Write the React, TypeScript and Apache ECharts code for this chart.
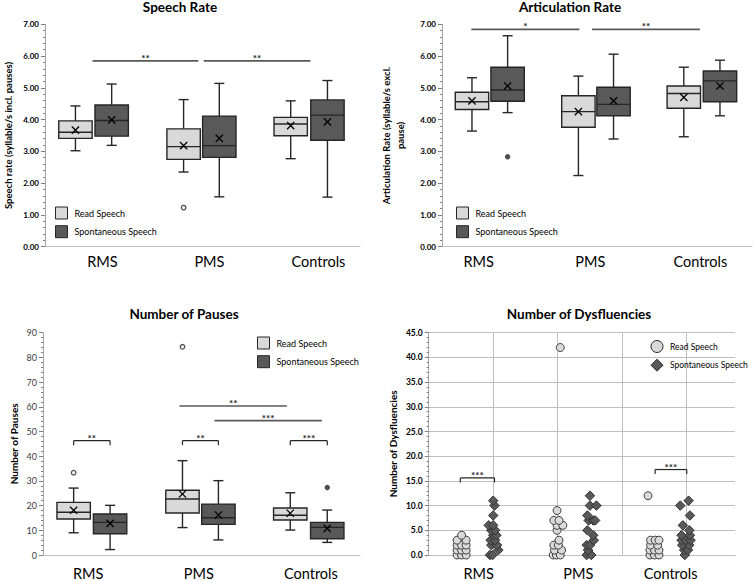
import React, { useEffect, useRef } from "react";
import * as echarts from "echarts";

// ---------- DATA ----------
const categories = ["RMS", "PMS", "Controls"];
const seriesNames = ["Read Speech", "Spontaneous Speech"];

// box stats per group: [min, q1, median, q3, max]
const speechRateReadBox = [
  [3.02, 3.41, 3.6, 3.96, 4.43],
  [2.35, 2.75, 3.15, 3.71, 4.63],
  [2.77, 3.49, 3.86, 4.07, 4.59],
];
const speechRateReadMean = [3.67, 3.18, 3.81];
const speechRateSpontBox = [
  [3.19, 3.48, 3.97, 4.46, 5.12],
  [1.57, 2.81, 3.18, 4.11, 5.14],
  [1.56, 3.35, 4.14, 4.62, 5.23],
];
const speechRateSpontMean = [3.99, 3.41, 3.93];
const speechRateOutliers = [[1, 0, 1.23]]; // [group, seriesIdx, value]

const artRateReadBox = [
  [3.64, 4.32, 4.56, 4.86, 5.32],
  [2.24, 3.76, 4.25, 4.75, 5.37],
  [3.46, 4.36, 4.82, 5.06, 5.65],
];
const artRateReadMean = [4.59, 4.25, 4.7];
const artRateSpontBox = [
  [4.22, 4.58, 4.93, 5.65, 6.64],
  [3.39, 4.12, 4.48, 5.02, 6.06],
  [4.12, 4.56, 5.22, 5.53, 5.87],
];
const artRateSpontMean = [5.06, 4.59, 5.06];
const artRateOutliers = [[0, 1, 2.83]];

const pausesReadBox = [
  [9.0, 14.6, 17.3, 21.3, 27.1],
  [11.1, 17.0, 22.7, 26.2, 38.2],
  [10.1, 14.2, 16.1, 19.0, 25.2],
];
const pausesReadMean = [18.1, 24.7, 16.9];
const pausesSpontBox = [
  [2.2, 8.6, 13.2, 16.6, 20.1],
  [6.1, 12.4, 15.1, 20.6, 30.1],
  [5.1, 6.6, 11.2, 13.2, 18.2],
];
const pausesSpontMean = [12.8, 16.2, 10.8];
const pausesOutliers = [
  [0, 0, 33.3],
  [1, 0, 84.3],
  [2, 1, 27.3],
];

// Dysfluencies: [x position (jittered), count]
const dysReadPoints = [
  [0.44, 0], [0.51, 0], [0.58, 0], [0.44, 1], [0.51, 1], [0.58, 1],
  [0.44, 2], [0.51, 2], [0.58, 2], [0.44, 3], [0.58, 3], [0.51, 4],
  [1.93, 0], [1.98, 0], [2.04, 0], [1.95, 1], [2.06, 1], [1.94, 2], [2.01, 2],
  [2.02, 3], [1.99, 5], [1.99, 6], [2.08, 6], [1.94, 7], [2.02, 7], [1.99, 9], [2.04, 42],
  [3.43, 0], [3.5, 0], [3.57, 0], [3.43, 1], [3.5, 1], [3.57, 1], [3.44, 2], [3.55, 2],
  [3.44, 3], [3.51, 3], [3.57, 3], [3.4, 12],
];
const dysSpontPoints = [
  [0.95, 0], [0.99, 0], [1.08, 1], [0.97, 2], [1.06, 2], [0.96, 3], [1.03, 3],
  [1.0, 4], [1.05, 4], [0.97, 5], [1.03, 5], [0.93, 6], [1.0, 6], [1.0, 8], [1.02, 10], [1.0, 11],
  [2.45, 0], [2.52, 0], [2.47, 1], [2.45, 2], [2.5, 2], [2.56, 3], [2.55, 4], [2.46, 5],
  [2.48, 7], [2.55, 7], [2.58, 7], [2.46, 8], [2.5, 10], [2.6, 10], [2.5, 12],
  [3.97, 0], [3.96, 1], [4.02, 1], [3.93, 2], [4.04, 2], [3.92, 3], [3.99, 3], [4.06, 3],
  [3.92, 4], [4.05, 4], [4.04, 5], [3.94, 6], [4.05, 8], [3.9, 10], [4.03, 11],
];

// significance: [x1, x2, y, bracket(1) or line(0), label]
const speechRateSig = [
  [0.453, 1.46, 5.85, 0, "**"],
  [1.512, 2.528, 5.85, 0, "**"],
];
const artRateSig = [
  [0.284, 1.329, 6.84, 0, "*"],
  [1.452, 2.495, 6.84, 0, "**"],
];
const pausesSig = [
  [0.29, 0.635, 46.3, 1, "**"],
  [1.32, 1.66, 46.3, 1, "**"],
  [2.34, 2.69, 46.3, 1, "***"],
  [1.292, 2.308, 60.3, 0, "**"],
  [1.623, 2.639, 54.4, 0, "***"],
];
const dysSig = [
  [0.49, 1.02, 15.6, 1, "***"],
  [3.51, 4.0, 17.3, 1, "***"],
];

// ---------- LAYOUT ----------
const readPos = [0.29, 1.32, 2.34];
const spontPos = [0.635, 1.66, 2.69];
const FONT = "Lato, 'Open Sans', sans-serif";
const LIGHT = "#d9d9d9";
const DARK = "#595959";
const STROKE = "#262626";

function boxRender(params: any, api: any) {
  const x = api.value(0);
  const pts = [1, 2, 3, 4, 5, 6].map((i) => api.coord([x, api.value(i)]));
  const cx = pts[0][0];
  const [yMin, yQ1, yMed, yQ3, yMax, yMean] = pts.map((p: number[]) => p[1]);
  const hw = 16.7;
  const cap = 5;
  const m = 3.6;
  const fill = api.visual("color");
  const ls = { stroke: STROKE, lineWidth: 1.4 };
  return {
    type: "group",
    children: [
      { type: "line", shape: { x1: cx, y1: yQ3, x2: cx, y2: yMax }, style: ls },
      { type: "line", shape: { x1: cx, y1: yQ1, x2: cx, y2: yMin }, style: ls },
      { type: "line", shape: { x1: cx - cap, y1: yMax, x2: cx + cap, y2: yMax }, style: ls },
      { type: "line", shape: { x1: cx - cap, y1: yMin, x2: cx + cap, y2: yMin }, style: ls },
      {
        type: "rect",
        shape: { x: cx - hw, y: yQ3, width: hw * 2, height: yQ1 - yQ3 },
        style: { fill, stroke: STROKE, lineWidth: 1.4 },
      },
      { type: "line", shape: { x1: cx - hw, y1: yMed, x2: cx + hw, y2: yMed }, style: ls },
      { type: "line", shape: { x1: cx - m, y1: yMean - m, x2: cx + m, y2: yMean + m }, style: { stroke: "#000", lineWidth: 1.3 } },
      { type: "line", shape: { x1: cx - m, y1: yMean + m, x2: cx + m, y2: yMean - m }, style: { stroke: "#000", lineWidth: 1.3 } },
    ],
  };
}

const sigLabels: Record<string, string[]> = {};

function sigRender(params: any, api: any) {
  const p1 = api.coord([api.value(0), api.value(2)]);
  const p2 = api.coord([api.value(1), api.value(2)]);
  const bracket = api.value(3) === 1;
  const label = sigLabels[params.seriesId]?.[params.dataIndex] ?? "";
  const ls = { stroke: bracket ? STROKE : "#595959", lineWidth: bracket ? 1.2 : 1.6 };
  const children: any[] = [
    { type: "line", shape: { x1: p1[0], y1: p1[1], x2: p2[0], y2: p2[1] }, style: ls },
  ];
  if (bracket) {
    children.push({ type: "line", shape: { x1: p1[0], y1: p1[1], x2: p1[0], y2: p1[1] + 4.5 }, style: ls });
    children.push({ type: "line", shape: { x1: p2[0], y1: p2[1], x2: p2[0], y2: p2[1] + 4.5 }, style: ls });
  }
  children.push({
    type: "text",
    x: (p1[0] + p2[0]) / 2,
    y: p1[1] + 2,
    style: { text: label, fontSize: 10, fontFamily: FONT, fontWeight: "bold", fill: "#262626", align: "center", verticalAlign: "bottom" },
  });
  return { type: "group", children };
}

function boxSeries(gi: number, name: string, pos: number[], box: number[][], mean: number[], color: string) {
  return {
    type: "custom",
    name,
    xAxisIndex: gi,
    yAxisIndex: gi,
    itemStyle: { color },
    renderItem: boxRender,
    encode: { x: 0, y: [1, 2, 3, 4, 5, 6] },
    data: box.map((b, i) => [pos[i], ...b, mean[i]]),
    z: 3,
  };
}

function outlierSeries(gi: number, outs: number[][]) {
  return {
    type: "scatter",
    xAxisIndex: gi,
    yAxisIndex: gi,
    symbol: "circle",
    symbolSize: 4.5,
    silent: true,
    data: outs.map(([g, s, v]) => ({
      value: [s === 0 ? readPos[g] : spontPos[g], v],
      itemStyle: s === 0 ? { color: "#fff", borderColor: STROKE, borderWidth: 1.3 } : { color: "#262626", borderColor: STROKE, borderWidth: 1 },
    })),
    z: 4,
  };
}

function sigSeries(gi: number, id: string, sig: any[][]) {
  sigLabels[id] = sig.map((s) => s[4] as string);
  return {
    type: "custom",
    id,
    xAxisIndex: gi,
    yAxisIndex: gi,
    silent: true,
    renderItem: sigRender,
    encode: { x: [0, 1], y: 2 },
    data: sig.map((s) => [s[0], s[1], s[2], s[3]]),
    z: 5,
  };
}

const boxLabelPos = [
  [0.547, 1.566, 2.604],
  [0.355, 1.436, 2.5],
  [0.427, 1.475, 2.535],
  [0.775, 2.32, 3.75],
];

function xAxis(gi: number, max: number) {
  const lp = boxLabelPos[gi];
  return {
    type: "value",
    gridIndex: gi,
    min: 0,
    max,
    interval: 1,
    axisLine: { show: true, onZero: false, lineStyle: { color: "#bfbfbf", width: 1 } },
    axisTick: { show: false },
    splitLine: { show: false },
    axisLabel: {
      customValues: lp,
      formatter: (v: number) => {
        let best = 0;
        lp.forEach((p, i) => {
          if (Math.abs(p - v) < Math.abs(lp[best] - v)) best = i;
        });
        return categories[best];
      },
      fontSize: 14.5,
      fontFamily: FONT,
      color: "#000",
      margin: gi < 2 ? 7 : 11,
    },
  };
}

function yAxis(gi: number, max: number, interval: number, decimals: number, name: string, nameGap: number, opts: any) {
  return {
    type: "value",
    gridIndex: gi,
    min: 0,
    max,
    interval,
    name,
    nameLocation: "middle",
    nameGap,
    nameTextStyle: { fontSize: opts.nameSize, fontWeight: "bold", fontFamily: FONT, color: "#000", lineHeight: opts.nameLH || 14 },
    axisLine: { show: true, lineStyle: { color: "#a6a6a6", width: 1 } },
    axisTick: { show: true, length: 4, lineStyle: { color: "#7f7f7f" } },
    minorTick: { show: true, splitNumber: 5, length: 2, lineStyle: { color: "#7f7f7f" } },
    splitLine: { show: opts.split, lineStyle: { color: "#bfbfbf", width: 1 } },
    axisLabel: {
      formatter: (v: number) => v.toFixed(decimals),
      fontSize: opts.labelSize,
      fontWeight: opts.bold ? "bold" : "normal",
      fontFamily: FONT,
      color: opts.bold ? "#000" : "#404040",
      margin: 6,
    },
  };
}

function legend(left: number, top: number, icons: string[], fontSize: number) {
  return {
    left,
    top,
    orient: "vertical",
    itemWidth: 12,
    itemHeight: 12,
    itemGap: 5.7,
    padding: 0,
    selectedMode: false,
    textStyle: { fontSize, fontFamily: FONT, color: "#000", padding: [0, 0, 0, 2] },
    data: [
      { name: seriesNames[0], icon: icons[0], itemStyle: { color: LIGHT, borderColor: STROKE, borderWidth: 1 } },
      { name: seriesNames[1], icon: icons[1], itemStyle: { color: DARK, borderColor: STROKE, borderWidth: 1 } },
    ],
  };
}

export default function App() {
  const ref = useRef<HTMLDivElement>(null);
  useEffect(() => {
    if (!ref.current) return;
    const chart = echarts.init(ref.current, undefined, { renderer: "svg" });
    const titleStyle = { fontSize: 13.5, fontWeight: "bold", fontFamily: FONT, color: "#000" };
    const option: any = {
      animation: false,
      backgroundColor: "#fff",
      title: [
        { text: "Speech Rate", left: 180, top: 0, padding: 0, textAlign: "center", textStyle: titleStyle },
        { text: "Articulation Rate", left: 570, top: 0, padding: 0, textAlign: "center", textStyle: titleStyle },
        { text: "Number of Pauses", left: 184, top: 306.5, padding: 0, textAlign: "center", textStyle: titleStyle },
        { text: "Number of Dysfluencies", left: 579, top: 306.5, padding: 0, textAlign: "center", textStyle: titleStyle },
      ],
      legend: [
        legend(55, 206.5, ["rect", "rect"], 9),
        legend(456, 206.5, ["rect", "rect"], 9),
        legend(257, 336.5, ["rect", "rect"], 9),
        legend(650.5, 340, ["circle", "diamond"], 8.5),
      ],
      grid: [
        { left: 42, top: 24.3, width: 318, height: 222.4 },
        { left: 442, top: 24.3, width: 310, height: 222.4 },
        { left: 43, top: 332.7, width: 317, height: 222.3 },
        { left: 428.7, top: 332.7, width: 306.4, height: 222.3 },
      ],
      xAxis: [xAxis(0, 3), xAxis(1, 3), xAxis(2, 3), xAxis(3, 4.75)],
      yAxis: [
        yAxis(0, 7, 1, 2, "Speech rate (syllable/s incl. pauses)", 30, { nameSize: 9.5, labelSize: 8, bold: true, split: false }),
        yAxis(1, 7, 1, 2, "Articulation Rate (syllable/s excl.\npause)", 35, { nameSize: 9.5, labelSize: 8, bold: true, split: false, nameLH: 14 }),
        yAxis(2, 90, 10, 0, "Number of Pauses", 22, { nameSize: 10, labelSize: 9, bold: false, split: false }),
        yAxis(3, 45, 5, 1, "Number of Dysfluencies", 29, { nameSize: 10, labelSize: 8.5, bold: true, split: true }),
      ],
      series: [
        boxSeries(0, seriesNames[0], readPos, speechRateReadBox, speechRateReadMean, LIGHT),
        boxSeries(0, seriesNames[1], spontPos, speechRateSpontBox, speechRateSpontMean, DARK),
        outlierSeries(0, speechRateOutliers),
        sigSeries(0, "sig0", speechRateSig),
        boxSeries(1, seriesNames[0], readPos, artRateReadBox, artRateReadMean, LIGHT),
        boxSeries(1, seriesNames[1], spontPos, artRateSpontBox, artRateSpontMean, DARK),
        outlierSeries(1, artRateOutliers),
        sigSeries(1, "sig1", artRateSig),
        boxSeries(2, seriesNames[0], readPos, pausesReadBox, pausesReadMean, LIGHT),
        boxSeries(2, seriesNames[1], spontPos, pausesSpontBox, pausesSpontMean, DARK),
        outlierSeries(2, pausesOutliers),
        sigSeries(2, "sig2", pausesSig),
        {
          type: "scatter",
          name: seriesNames[0],
          xAxisIndex: 3,
          yAxisIndex: 3,
          symbol: "circle",
          symbolSize: 8,
          itemStyle: { color: LIGHT, borderColor: "#404040", borderWidth: 1, opacity: 1 },
          data: dysReadPoints,
          markLine: {
            silent: true,
            symbol: "none",
            label: { show: false },
            lineStyle: { color: "#bfbfbf", type: "solid", width: 1 },
            data: [{ xAxis: 1 }, { xAxis: 2 }, { xAxis: 3 }, { xAxis: 4 }],
            z: 1,
          },
          z: 3,
        },
        {
          type: "scatter",
          name: seriesNames[1],
          xAxisIndex: 3,
          yAxisIndex: 3,
          symbol: "diamond",
          symbolSize: 9.5,
          itemStyle: { color: DARK, borderColor: "#333", borderWidth: 1, opacity: 1 },
          data: dysSpontPoints,
          z: 4,
        },
        sigSeries(3, "sig3", dysSig),
      ],
    };
    chart.setOption(option);
    return () => chart.dispose();
  }, []);
  return (
    <div
      ref={ref}
      style={{ position: "fixed", left: 0, top: 0, width: 755, height: 581, background: "#fff" }}
    />
  );
}
